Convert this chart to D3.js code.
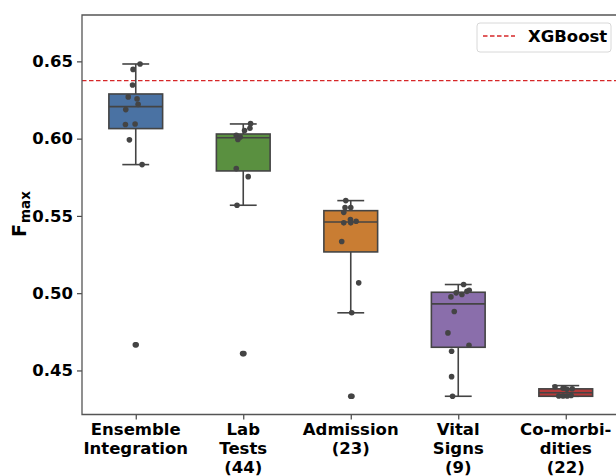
<!DOCTYPE html>
<html>
<head>
<meta charset="utf-8">
<script src="https://cdn.jsdelivr.net/npm/d3@7"></script>
<style>
    body { margin: 0; background: #fff; }
    text { font-family: "DejaVu Sans", sans-serif; font-weight: bold; }
</style>
</head>
<body>
<script>
const width = 616;
const height = 476;

// categories (multi-line labels)
const categories = [
    ["Ensemble", "Integration"],
    ["Lab", "Tests", "(44)"],
    ["Admission", "(23)"],
    ["Vital", "Signs", "(9)"],
    ["Co-morbi-", "dities", "(22)"],
];
const boxColours = ["#4a72a3", "#5a9040", "#c97d33", "#8a6eab", "#b33a3a"];

// box stats
const whiskerLow = [0.5832, 0.5569, 0.4873, 0.4333, 0.4333];
const q1 = [0.6065, 0.5791, 0.5267, 0.4650, 0.4333];
const median = [0.6207, 0.6006, 0.5461, 0.4931, 0.4356];
const q3 = [0.6289, 0.6030, 0.5534, 0.5006, 0.4381];
const whiskerHigh = [0.6483, 0.6095, 0.5599, 0.5056, 0.4402];

// individual runs: [value, jitter in category units]
const ensemblePoints = [
    [0.6483, 0.04], [0.6448, -0.025], [0.6347, -0.03], [0.6270, -0.07],
    [0.6257, 0.012], [0.6222, 0.022], [0.6188, -0.093], [0.6091, -0.096],
    [0.6095, -0.006], [0.5992, -0.059], [0.5832, 0.059], [0.4666, -0.004], [0.4666, 0.004],
];
const labPoints = [
    [0.6097, 0.068], [0.6067, 0.062], [0.6052, 0.012], [0.6021, -0.065],
    [0.6011, -0.028], [0.5994, -0.05], [0.5806, -0.065], [0.5754, 0.046],
    [0.5569, -0.058], [0.4609, -0.006], [0.4609, 0.006],
];
const admissionPoints = [
    [0.5599, -0.046], [0.5554, -0.053], [0.5554, 0.0], [0.5523, -0.065],
    [0.5455, -0.065], [0.5476, -0.003], [0.5455, 0.0], [0.5465, 0.05],
    [0.5334, -0.084], [0.5067, 0.074], [0.4873, 0.009], [0.4333, 0.011], [0.4333, 0.0],
];
const vitalPoints = [
    [0.5056, 0.05], [0.4976, -0.068], [0.5002, -0.019], [0.4991, 0.034],
    [0.5012, 0.081], [0.5019, 0.102], [0.4881, -0.037], [0.4743, -0.096],
    [0.4663, 0.1], [0.4624, -0.062], [0.4460, -0.062], [0.4333, -0.053],
];
const comorbPoints = [
    [0.4395, -0.1], [0.4385, -0.025], [0.4378, 0.01], [0.4382, 0.06],
    [0.4335, -0.065], [0.4335, -0.025], [0.4335, 0.013], [0.4338, 0.05],
];
const pointSets = [ensemblePoints, labPoints, admissionPoints, vitalPoints, comorbPoints];

const xgboost = 0.6375;
const yTicks = [0.45, 0.5, 0.55, 0.6, 0.65];

const margin = { top: 15, right: -3.5, bottom: 61.5, left: 82 };

const svg = d3
    .select("body")
    .append("svg")
    .attr("width", width)
    .attr("height", height);

const x = d3
    .scaleLinear()
    .domain([-0.5, categories.length - 0.5])
    .range([margin.left, width - margin.right]);

const y = d3
    .scaleLinear()
    .domain([0.4215, 0.68])
    .range([height - margin.bottom, margin.top]);

const boxHalf = 0.25;

// XGBoost reference line
svg.append("line")
    .attr("x1", x(-0.5))
    .attr("x2", x(4.5))
    .attr("y1", y(xgboost))
    .attr("y2", y(xgboost))
    .attr("stroke", "#d62728")
    .attr("stroke-width", 1.3)
    .attr("stroke-dasharray", "4.5,2.5");

// boxes
const boxes = svg
    .selectAll(".box")
    .data(categories.map((c, i) => i))
    .enter()
    .append("g")
    .attr("class", "box");

boxes.append("line")
    .attr("x1", (i) => x(i))
    .attr("x2", (i) => x(i))
    .attr("y1", (i) => y(whiskerHigh[i]))
    .attr("y2", (i) => y(q3[i]))
    .attr("stroke", "#444")
    .attr("stroke-width", 1.6);

boxes.append("line")
    .attr("x1", (i) => x(i))
    .attr("x2", (i) => x(i))
    .attr("y1", (i) => y(q1[i]))
    .attr("y2", (i) => y(whiskerLow[i]))
    .attr("stroke", "#444")
    .attr("stroke-width", 1.6);

boxes.selectAll(".cap")
    .data((i) => [[i, whiskerHigh[i]], [i, whiskerLow[i]]])
    .enter()
    .append("line")
    .attr("class", "cap")
    .attr("x1", (d) => x(d[0] - boxHalf / 2))
    .attr("x2", (d) => x(d[0] + boxHalf / 2))
    .attr("y1", (d) => y(d[1]))
    .attr("y2", (d) => y(d[1]))
    .attr("stroke", "#444")
    .attr("stroke-width", 1.6);

boxes.append("rect")
    .attr("x", (i) => x(i - boxHalf))
    .attr("width", (i) => x(i + boxHalf) - x(i - boxHalf))
    .attr("y", (i) => y(q3[i]))
    .attr("height", (i) => y(q1[i]) - y(q3[i]))
    .attr("fill", (i) => boxColours[i])
    .attr("stroke", "#444")
    .attr("stroke-width", 1.6);

boxes.append("line")
    .attr("x1", (i) => x(i - boxHalf))
    .attr("x2", (i) => x(i + boxHalf))
    .attr("y1", (i) => y(median[i]))
    .attr("y2", (i) => y(median[i]))
    .attr("stroke", "#444")
    .attr("stroke-width", 1.6);

// strip points
const flatPoints = [];
pointSets.forEach((set, i) => set.forEach((p) => flatPoints.push({ cat: i, v: p[0], j: p[1] })));

svg.selectAll(".pt")
    .data(flatPoints)
    .enter()
    .append("circle")
    .attr("class", "pt")
    .attr("cx", (d) => x(d.cat + d.j))
    .attr("cy", (d) => y(d.v))
    .attr("r", 2.8)
    .attr("fill", "#444");

// axes
const yAxis = svg
    .append("g")
    .attr("transform", `translate(${margin.left},0)`)
    .call(d3.axisLeft(y).tickValues(yTicks).tickFormat(d3.format(".2f")).tickSize(5).tickPadding(4));

const xAxis = svg
    .append("g")
    .attr("transform", `translate(0,${height - margin.bottom})`)
    .call(d3.axisBottom(x).tickValues(d3.range(categories.length)).tickFormat("").tickSize(5));

[yAxis, xAxis].forEach((ax) => {
    ax.select(".domain").remove();
    ax.selectAll(".tick line").attr("stroke", "#444").attr("stroke-width", 1.2);
});
yAxis.selectAll(".tick text")
    .attr("fill", "#000")
    .style("font-size", "16.5px")
    .style("font-family", "DejaVu Sans")
    .style("font-weight", "bold");

// spines (left, bottom, top)
svg.append("path")
    .attr("d", `M${x(4.5)},${y(0.68)}H${margin.left}V${height - margin.bottom}H${x(4.5)}`)
    .attr("fill", "none")
    .attr("stroke", "#555")
    .attr("stroke-width", 1.3);

// category labels
const catLabels = svg
    .selectAll(".cat-label")
    .data(categories)
    .enter()
    .append("text")
    .attr("class", "cat-label")
    .attr("text-anchor", "middle")
    .style("font-size", "16.5px")
    .attr("fill", "#000");

catLabels.selectAll("tspan")
    .data((d, i) => d.map((line, k) => ({ line, k, i })))
    .enter()
    .append("tspan")
    .attr("x", (d) => x(d.i))
    .attr("y", (d) => height - margin.bottom + 20 + d.k * 19)
    .text((d) => d.line);

// y label: F_max
const yLabel = svg
    .append("text")
    .attr("transform", "translate(26,237) rotate(-90)")
    .attr("fill", "#000");
yLabel.append("tspan").style("font-size", "19px").text("F");
yLabel.append("tspan").style("font-size", "13.5px").attr("dx", 1).attr("dy", 3.5).text("max");

// legend
const legend = svg.append("g").attr("transform", "translate(477,23)");
legend.append("rect")
    .attr("width", 134)
    .attr("height", 29)
    .attr("rx", 3)
    .attr("fill", "#fff")
    .attr("fill-opacity", 0.8)
    .attr("stroke", "#d8d8d8");
legend.append("line")
    .attr("x1", 6)
    .attr("x2", 38)
    .attr("y1", 13)
    .attr("y2", 13)
    .attr("stroke", "#d62728")
    .attr("stroke-width", 1.3)
    .attr("stroke-dasharray", "4.5,2.5");
legend.append("text")
    .attr("x", 51)
    .attr("y", 19)
    .style("font-size", "16.5px")
    .attr("fill", "#000")
    .text("XGBoost");
</script>
</body>
</html>
